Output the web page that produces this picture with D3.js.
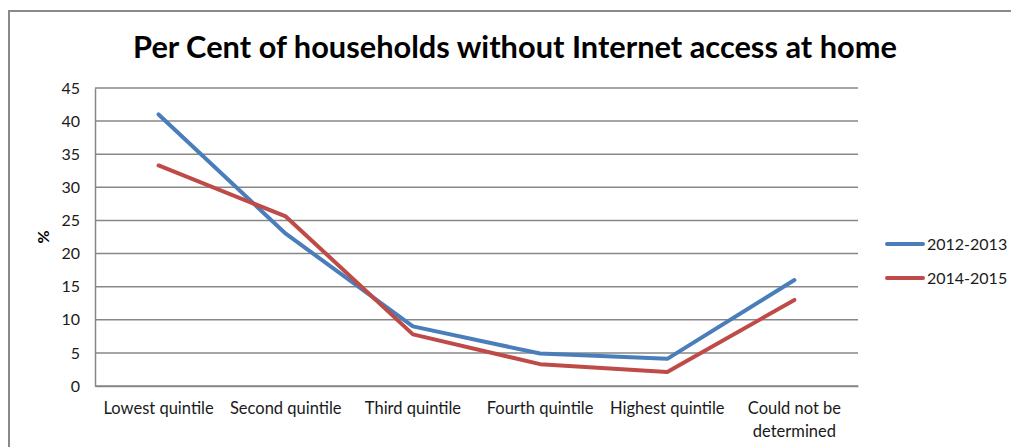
<!DOCTYPE html>
<html><head><meta charset="utf-8">
<script src="https://cdn.jsdelivr.net/npm/d3@7"></script>
<style>body{margin:0;background:#fff}svg{display:block}</style>
</head><body>
<svg id="c" width="1011" height="447"></svg>
<script>
const categories = ["Lowest quintile","Second quintile","Third quintile","Fourth quintile","Highest quintile","Could not be determined"];
const categoryLines = [["Lowest quintile"],["Second quintile"],["Third quintile"],["Fourth quintile"],["Highest quintile"],["Could not be","determined"]];
const series1Name = "2012-2013";
const series1 = [41.0, 23.0, 9.0, 4.9, 4.1, 16.0];
const series2Name = "2014-2015";
const series2 = [33.3, 25.6, 7.8, 3.3, 2.1, 13.0];
const yTicks = [0,5,10,15,20,25,30,35,40,45];
const titleText = "Per Cent of households without Internet access at home";
const yLabel = "%";

const colors = ["#4a7ebb", "#be4b48"];
const font = "Lato, 'Open Sans', sans-serif";
const textColor = "#1a1a1a";
const svg = d3.select("#c");

// outer chart border (top & left visible)
svg.append("path").attr("d","M9,447 L9,11 L1011,11").attr("fill","none").attr("stroke","#898989").attr("stroke-width",2);

const L=95, R=858, T=88, B=386;
const x = d3.scaleBand().domain(categories).range([L,R]);
const y = d3.scaleLinear().domain([0,45]).range([B,T]);

// gridlines
svg.append("g").selectAll("line").data(yTicks).join("line")
  .attr("x1",L).attr("x2",R).attr("y1",d=>y(d)).attr("y2",d=>y(d))
  .attr("stroke","#878787").attr("stroke-width",1.5);

// y axis
const ya = svg.append("g").attr("transform",`translate(${L},0)`)
  .call(d3.axisLeft(y).tickValues(yTicks).tickSize(0).tickPadding(15));
ya.select(".domain").attr("stroke","#878787").attr("stroke-width",1.5);
ya.selectAll("text").attr("font-family",font).attr("font-size",16).attr("fill",textColor);

// x axis
const xa = svg.append("g").attr("transform",`translate(0,${B})`)
  .call(d3.axisBottom(x).tickSize(0).tickFormat(""));
xa.select(".domain").attr("stroke","#878787").attr("stroke-width",1.5);
xa.selectAll(".tick").each(function(d,i){
  const t = d3.select(this).append("text").attr("fill",textColor).attr("font-family",font)
    .attr("font-size",16.5).attr("text-anchor","middle");
  categoryLines[i].forEach((s,j)=>{
    t.append("tspan").attr("x",0).attr("y",28+j*23).text(s);
  });
});

// lines
const line = d3.line().x((d,i)=>x(categories[i])+x.bandwidth()/2).y(d=>y(d));
[series1,series2].forEach((s,k)=>{
  svg.append("path").datum(s).attr("d",line).attr("fill","none")
    .attr("stroke",colors[k]).attr("stroke-width",4).attr("stroke-linejoin","round").attr("stroke-linecap","round");
});

// legend
[series1Name,series2Name].forEach((n,k)=>{
  const ly = 244 + k*34;
  svg.append("line").attr("x1",887).attr("x2",923).attr("y1",ly).attr("y2",ly)
    .attr("stroke",colors[k]).attr("stroke-width",4).attr("stroke-linecap","round");
  svg.append("text").attr("x",927).attr("y",ly).attr("dy","0.35em")
    .attr("font-family",font).attr("font-size",16).attr("fill",textColor).text(n);
});

// y label
svg.append("text").attr("transform","translate(49,237) rotate(-90)")
  .attr("text-anchor","middle").attr("font-family",font).attr("font-weight","bold")
  .attr("font-size",16).attr("fill","#000").text(yLabel);

// title
const title = svg.append("text").attr("x",515).attr("y",58).attr("text-anchor","middle")
  .attr("font-family",font).attr("font-weight","bold").attr("font-size",30).attr("fill","#000").text(titleText);
const w = title.node().getComputedTextLength();
title.attr("font-size", 30*764/w);
</script>
</body></html>
